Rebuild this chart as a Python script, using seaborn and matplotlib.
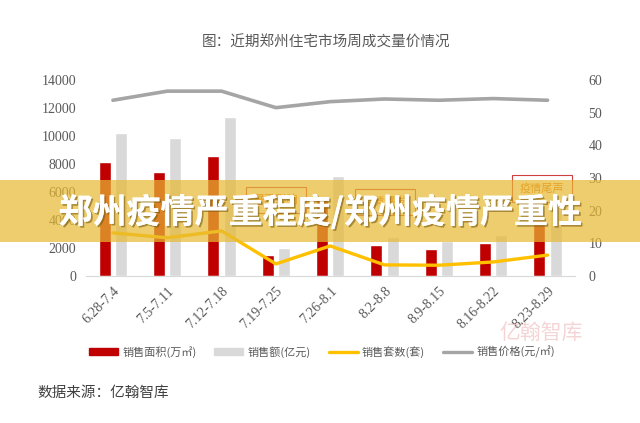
import numpy as np
import pandas as pd
import seaborn as sns
import matplotlib
matplotlib.use("Agg")
import matplotlib.pyplot as plt
from matplotlib.patches import Rectangle, Patch
from matplotlib.lines import Line2D
import matplotlib.patheffects as pe

# =============================================================================
# Data
# =============================================================================
weeks = ["6.28-7.4", "7.5-7.11", "7.12-7.18", "7.19-7.25", "7.26-8.1",
         "8.2-8.8", "8.9-8.15", "8.16-8.22", "8.23-8.29"]
area = [8150, 7450, 8600, 1500, 5700, 2200, 1950, 2350, 4000]          # 销售面积
amount = [10200, 9850, 11350, 2000, 7150, 2800, 2500, 2950, 5100]      # 销售额
units = [13.2, 11.7, 13.8, 3.7, 9.2, 3.4, 3.3, 4.3, 6.4]               # 销售套数 (right axis)
price = [12550, 13200, 13200, 12020, 12450, 12640, 12550, 12670, 12550]  # 销售价格

series_names = ["销售面积(万㎡)", "销售额(亿元)", "销售套数(套)", "销售价格(元/㎡)"]
notes = ["暴雨影响", "疫情爆发", "疫情尾声"]
note_pos = [(3, 5450), (5, 5300), (7.9, 6250)]

RED = "#C00000"
LGRAY = "#D9D9D9"
GOLD = "#FFC000"
DGRAY = "#A5A5A5"
TXT = "#595959"

sns.set_style("white")
plt.rcParams["font.family"] = ["Noto Sans CJK SC", "DejaVu Sans"]

df = pd.DataFrame({
    "week": weeks * 2,
    "value": area + amount,
    "series": [series_names[0]] * len(weeks) + [series_names[1]] * len(weeks),
})

fig = plt.figure(figsize=(6.4, 4.23), dpi=100)
ax = fig.add_axes([0.134, 0.3475, 0.764, 0.4635])

sns.barplot(data=df, x="week", y="value", hue="series", order=weeks,
            palette=[RED, LGRAY], width=0.6, gap=0.27, saturation=1,
            legend=False, ax=ax)
sns.lineplot(x=np.arange(len(weeks)), y=price, color=DGRAY, lw=2.6, ax=ax)

ax2 = ax.twinx()
sns.lineplot(x=np.arange(len(weeks)), y=units, color=GOLD, lw=2.4, ax=ax2)

ax.set_xlim(-0.5, len(weeks) - 0.5)
ax.set_ylim(0, 14000)
ax2.set_ylim(0, 60)
ax.set_yticks(range(0, 14001, 2000))
ax2.set_yticks(range(0, 61, 10))
ax.set_xlabel("")
ax.set_ylabel("")
ax2.set_ylabel("")

for a in (ax, ax2):
    for s in a.spines.values():
        s.set_visible(False)
    a.tick_params(length=0, labelsize=10, colors=TXT)
    for lab in a.get_yticklabels():
        lab.set_fontfamily("Liberation Serif")
ax.spines["bottom"].set_visible(True)
ax.spines["bottom"].set_color(LGRAY)
ax.tick_params(axis="y", pad=7)
ax2.tick_params(axis="y", pad=10)
ax.set_xticks(range(len(weeks)))
ax.set_xticklabels(weeks, rotation=45, ha="right", rotation_mode="anchor",
                   fontsize=10, color=TXT, family="Liberation Serif")
ax.tick_params(axis="x", pad=6)

# annotation boxes
for txt, (x, y) in zip(notes, note_pos):
    ax.text(x, y, txt, fontsize=8, color="#E46C0A", ha="center", va="center",
            bbox=dict(boxstyle="square,pad=0.7", fc="white", ec="#D04040", lw=0.8),
            zorder=5)

fig.text(0.51, 0.9, "图：近期郑州住宅市场周成交量价情况", ha="center", va="center",
         fontsize=10.5, color=TXT)

handles = [Patch(color=RED), Patch(color=LGRAY),
           Line2D([], [], color=GOLD, lw=2.4), Line2D([], [], color=DGRAY, lw=2.4)]
fig.legend(handles, series_names, loc="center", bbox_to_anchor=(0.503, 0.168),
           ncol=4, frameon=False, fontsize=8, handlelength=2.6, handleheight=0.5,
           columnspacing=1.6, handletextpad=0.4, labelcolor=TXT)

fig.text(0.058, 0.07, "数据来源：亿翰智库", fontsize=10.5, color="#404040", va="center")
fig.text(0.845, 0.212, "亿翰智库", fontsize=15, color="#E8A0A0", alpha=0.45,
         ha="center", va="center")

# overlay banner
fig.add_artist(Rectangle((0, 1 - 242 / 423), 1, 62 / 423, transform=fig.transFigure,
                         facecolor="#E6B933", alpha=0.71, edgecolor="none", zorder=10))
fig.text(0.5, 1 - 212 / 423, "郑州疫情严重程度/郑州疫情严重性", ha="center", va="center",
         fontsize=24.5, fontweight="bold", color="white", zorder=11,
         path_effects=[pe.withSimplePatchShadow(offset=(1.2, -1.2), shadow_rgbFace="#7A5A10",
                                                alpha=0.6), pe.Normal()])

fig.savefig("out.png", dpi=100)
